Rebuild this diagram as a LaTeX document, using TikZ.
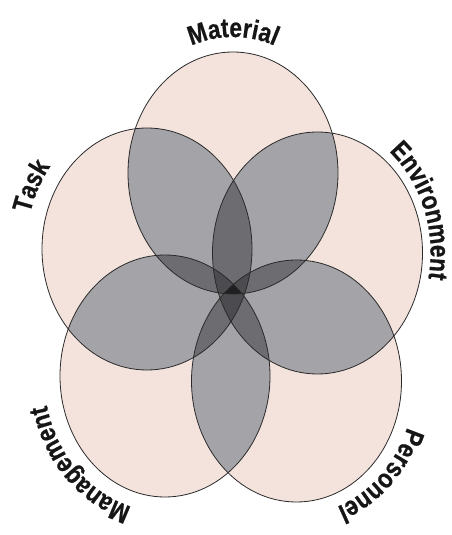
\documentclass[tikz,border=0pt]{standalone}
\usepackage{fontspec}
\newfontfamily\labfont[FakeStretch=0.84,FakeBold=0.6]{Liberation Sans}
\usetikzlibrary{decorations.text}
\definecolor{pinkfill}{HTML}{F4E3DD}
\definecolor{gtwo}{HTML}{A3A3A8}
\definecolor{gthree}{HTML}{6D6C71}
\definecolor{gfour}{HTML}{4C4B4F}
\definecolor{gfive}{HTML}{1F1F21}
\definecolor{edge}{HTML}{2A2A2A}
\definecolor{labcol}{HTML}{161616}
\def\rx{105pt}
\def\ry{121pt}
\def\EL#1{(#1) ellipse [x radius=\rx, y radius=\ry]}
\def\lab{\labfont\bfseries\fontsize{27}{27}\selectfont\color{labcol}}
\tikzset{
  outline/.style={draw=edge, line width=0.8pt},
  labelpath/.style={decorate, decoration={text along path, text align=center, text={|\lab|#1}}}
}
\begin{document}
\begin{tikzpicture}[x=1pt,y=1pt]
\useasboundingbox (0,0) rectangle (452,535);
\fill[white] (0,0) rectangle (452,535);
% centres (M=Material, E=Environment, P=Personnel, G=Management, T=Task)
\coordinate (M) at (233,362);
\coordinate (E) at (317.5,282);
\coordinate (P) at (296.5,154);
\coordinate (G) at (165,159);
\coordinate (T) at (147,286);
% base fills
\foreach \a in {M,E,P,G,T} { \fill[pinkfill] \EL{\a}; }
% pairwise overlaps
\foreach \a/\b in {M/E,M/P,M/G,M/T,E/P,E/G,E/T,P/G,P/T,G/T} {
  \begin{scope}\clip \EL{\a}; \clip \EL{\b}; \fill[gtwo] (0,0) rectangle (452,535);\end{scope}
}
% triple overlaps
\foreach \a/\b/\c in {M/E/P,M/E/G,M/E/T,M/P/G,M/P/T,M/G/T,E/P/G,E/P/T,E/G/T,P/G/T} {
  \begin{scope}\clip \EL{\a}; \clip \EL{\b}; \clip \EL{\c}; \fill[gthree] (0,0) rectangle (452,535);\end{scope}
}
% quadruple overlaps
\foreach \a/\b/\c/\d in {M/E/P/G,M/E/P/T,M/E/G/T,M/P/G/T,E/P/G/T} {
  \begin{scope}\clip \EL{\a}; \clip \EL{\b}; \clip \EL{\c}; \clip \EL{\d}; \fill[gfour] (0,0) rectangle (452,535);\end{scope}
}
% all five
\begin{scope}\clip \EL{M}; \clip \EL{E}; \clip \EL{P}; \clip \EL{G}; \clip \EL{T}; \fill[gfive] (0,0) rectangle (452,535);\end{scope}
% outlines
\foreach \a in {M,E,P,G,T} { \draw[outline] \EL{\a}; }
% labels
\path[labelpath=Material] ([shift={(M)}]150:118pt and 136pt) arc[start angle=150, end angle=30, x radius=118pt, y radius=136pt];
\path[labelpath=Environment] ([shift={(E)}]80:113pt and 131pt) arc[start angle=80, end angle=-38, x radius=113pt, y radius=131pt];
\path[labelpath=Personnel] ([shift={(P)}]10:118pt and 134pt) arc[start angle=10, end angle=-104, x radius=118pt, y radius=134pt];
\path[labelpath=Management] ([shift={(G)}]-72:121pt and 136pt) arc[start angle=-72, end angle=-198, x radius=121pt, y radius=136pt];
\path[labelpath=Task] ([shift={(T)}]210:121pt and 137pt) arc[start angle=210, end angle=94, x radius=121pt, y radius=137pt];
\end{tikzpicture}
\end{document}
